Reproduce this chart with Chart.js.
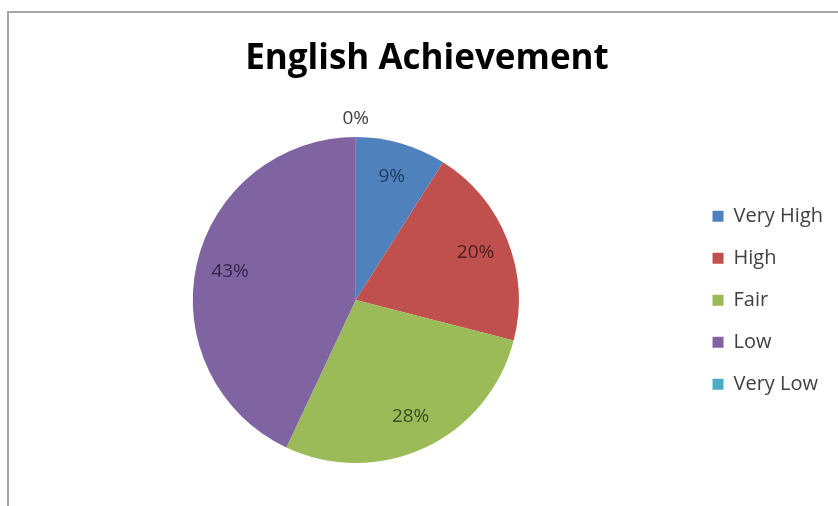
<!DOCTYPE html>
<html>
<head>
<meta charset="utf-8">
<script src="https://cdn.jsdelivr.net/npm/chart.js@4"></script>
<style>
  html, body { margin: 0; padding: 0; background: #fff; }
  #wrap { width: 838px; height: 506px; }
</style>
</head>
<body>
<div id="wrap"><canvas id="pieChart" width="838" height="506"></canvas></div>
<script>
// 数据
const categories = ['Very High', 'High', 'Fair', 'Low', 'Very Low'];
const percentValues = [9, 20, 28, 43, 0];
const sliceColors = ['#4F81BD', '#C0504D', '#9BBB59', '#8064A2', '#4BACC6'];
const labelColors = ['#1f3a5c', '#4a1f1e', '#3c4d1f', '#33264a', '#404040'];

// 外框
const framePlugin = {
    id: 'frame',
    beforeDraw(chart) {
        const ctx = chart.ctx;
        ctx.save();
        ctx.fillStyle = '#fff';
        ctx.fillRect(0, 0, chart.width, chart.height);
        ctx.strokeStyle = '#a6a6a6';
        ctx.lineWidth = 2;
        ctx.strokeRect(8, 12, chart.width + 20, chart.height + 20);
        ctx.restore();
    }
};

// 百分比标签
const sliceLabels = {
    id: 'sliceLabels',
    afterDatasetsDraw(chart) {
        const ctx = chart.ctx;
        const meta = chart.getDatasetMeta(0);
        ctx.save();
        ctx.font = '19px "Open Sans"';
        ctx.textAlign = 'center';
        ctx.textBaseline = 'middle';
        meta.data.forEach(function(arc, i) {
            const p = arc.getProps(['x', 'y', 'startAngle', 'endAngle', 'outerRadius'], true);
            const mid = (p.startAngle + p.endAngle) / 2;
            const value = percentValues[i];
            const r = value > 0 ? p.outerRadius * 0.79 : p.outerRadius + 18;
            ctx.fillStyle = value > 0 ? labelColors[i] : '#404040';
            ctx.fillText(value + '%', p.x + Math.cos(mid) * r, p.y + Math.sin(mid) * r);
        });
        ctx.restore();
    }
};

new Chart(document.getElementById('pieChart').getContext('2d'), {
    type: 'pie',
    data: {
        labels: categories,
        datasets: [{
            data: percentValues,
            backgroundColor: sliceColors,
            borderWidth: 0
        }]
    },
    options: {
        responsive: false,
        animation: false,
        events: [],
        layout: { padding: { left: 21, right: 5, top: 0, bottom: 43 } },
        plugins: {
            title: {
                display: true,
                text: 'English Achievement',
                color: '#000',
                font: { family: '"Open Sans"', size: 35, weight: 'bold' },
                padding: { top: 38, bottom: 57 }
            },
            legend: {
                position: 'right',
                align: 'start',
                title: {
                    display: true,
                    text: ' ',
                    font: { size: 1 },
                    padding: { top: 183, bottom: 0 }
                },
                labels: {
                    boxWidth: 11,
                    boxHeight: 11,
                    padding: 22,
                    color: '#404040',
                    font: { family: '"Open Sans"', size: 20 }
                }
            },
            tooltip: { enabled: false }
        }
    },
    plugins: [framePlugin, sliceLabels]
});
</script>
</body>
</html>
